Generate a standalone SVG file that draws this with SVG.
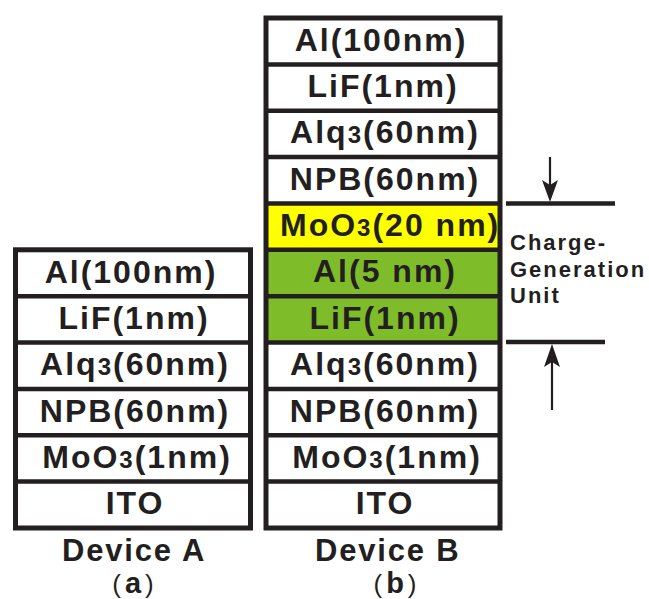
<svg xmlns="http://www.w3.org/2000/svg" width="649" height="599" viewBox="0 0 649 599">
<style>
.lbl{font-family:"Liberation Sans",Arial,sans-serif;font-weight:bold;font-size:32px;letter-spacing:2px;fill:#231f20;text-anchor:middle}
.sub{font-size:24px}
.side{font-family:"Liberation Sans",Arial,sans-serif;font-weight:bold;font-size:22px;letter-spacing:2px;fill:#231f20}
.cap{font-family:"Liberation Sans",Arial,sans-serif;font-weight:bold;font-size:31px;letter-spacing:1.8px;fill:#231f20}
.sub2{font-family:"Liberation Sans",Arial,sans-serif;font-size:26px;fill:#231f20;text-anchor:middle;letter-spacing:4px}
.par{font-weight:normal}
.ab{font-weight:bold;font-size:29px}
.frame{fill:none;stroke:#231f20;stroke-width:5}
.div{stroke:#231f20;stroke-width:4.5}
.bar{stroke:#231f20;stroke-width:4.5}
.shaft{stroke:#231f20;stroke-width:2.2}
.head{fill:#231f20}
</style>

<g id="deviceA">
<rect class="frame" x="15.5" y="249.8" width="235" height="278.2"/>
<line class="div" x1="15.5" y1="296.2" x2="250.5" y2="296.2"/>
<line class="div" x1="15.5" y1="342.5" x2="250.5" y2="342.5"/>
<line class="div" x1="15.5" y1="388.9" x2="250.5" y2="388.9"/>
<line class="div" x1="15.5" y1="435.3" x2="250.5" y2="435.3"/>
<line class="div" x1="15.5" y1="481.6" x2="250.5" y2="481.6"/>
<text class="lbl" x="131" y="282.5">Al(100nm)</text>
<text class="lbl" x="134" y="328.8">LiF(1nm)</text>
<text class="lbl" x="135" y="375.2">Alq<tspan class="sub">3</tspan>(60nm)</text>
<text class="lbl" x="135" y="421.6">NPB(60nm)</text>
<text class="lbl" x="137" y="467.9">MoO<tspan class="sub">3</tspan>(1nm)</text>
<text class="lbl" x="135" y="514.3">ITO</text>
</g>

<g id="deviceB">
<rect x="266" y="203.5" width="234" height="46.3" fill="#ffff00"/>
<rect x="266" y="249.8" width="234" height="92.7" fill="#7fbc2a"/>
<rect class="frame" x="266" y="18" width="234" height="510"/>
<line class="div" x1="266" y1="64.4" x2="500" y2="64.4"/>
<line class="div" x1="266" y1="110.7" x2="500" y2="110.7"/>
<line class="div" x1="266" y1="157.1" x2="500" y2="157.1"/>
<line class="div" x1="266" y1="203.5" x2="500" y2="203.5"/>
<line class="div" x1="266" y1="249.8" x2="500" y2="249.8"/>
<line class="div" x1="266" y1="296.2" x2="500" y2="296.2"/>
<line class="div" x1="266" y1="342.5" x2="500" y2="342.5"/>
<line class="div" x1="266" y1="388.9" x2="500" y2="388.9"/>
<line class="div" x1="266" y1="435.3" x2="500" y2="435.3"/>
<line class="div" x1="266" y1="481.6" x2="500" y2="481.6"/>
<text class="lbl" x="381" y="50.5">Al(100nm)</text>
<text class="lbl" x="383" y="96.9">LiF(1nm)</text>
<text class="lbl" x="385" y="143.2">Alq<tspan class="sub">3</tspan>(60nm)</text>
<text class="lbl" x="385" y="189.6">NPB(60nm)</text>
<text class="lbl" x="280" y="236" style="text-anchor:start">MoO<tspan class="sub">3</tspan>(20 nm)</text>
<text class="lbl" x="385" y="282.3">Al(5 nm)</text>
<text class="lbl" x="385" y="328.7">LiF(1nm)</text>
<text class="lbl" x="385" y="375.2">Alq<tspan class="sub">3</tspan>(60nm)</text>
<text class="lbl" x="385" y="421.6">NPB(60nm)</text>
<text class="lbl" x="387" y="467.9">MoO<tspan class="sub">3</tspan>(1nm)</text>
<text class="lbl" x="385" y="514.3">ITO</text>
</g>

<g id="cgu-label">
<text class="side" x="510" y="250">Charge-</text>
<text class="side" x="510" y="276.7">Generation</text>
<text class="side" x="510" y="303">Unit</text>
</g>

<g id="connectors">
<line class="bar" x1="506" y1="203.5" x2="615" y2="203.5"/>
<line class="bar" x1="506" y1="342" x2="605" y2="342"/>
<line class="shaft" x1="550" y1="157" x2="550" y2="186"/>
<polygon class="head" points="542,180 550,185 558,180 550,202"/>
<line class="shaft" x1="552" y1="410" x2="552" y2="362"/>
<polygon class="head" points="544,367 552,362 560,367 552,344"/>
</g>

<g id="captions">
<text class="cap" x="62" y="561">Device A</text>
<text class="cap" x="315" y="561">Device B</text>
<text class="sub2" x="135" y="593"><tspan class="par">(</tspan><tspan class="ab">a</tspan><tspan class="par">)</tspan></text>
<text class="sub2" x="397" y="593"><tspan class="par">(</tspan><tspan class="ab">b</tspan><tspan class="par">)</tspan></text>
</g>
</svg>
